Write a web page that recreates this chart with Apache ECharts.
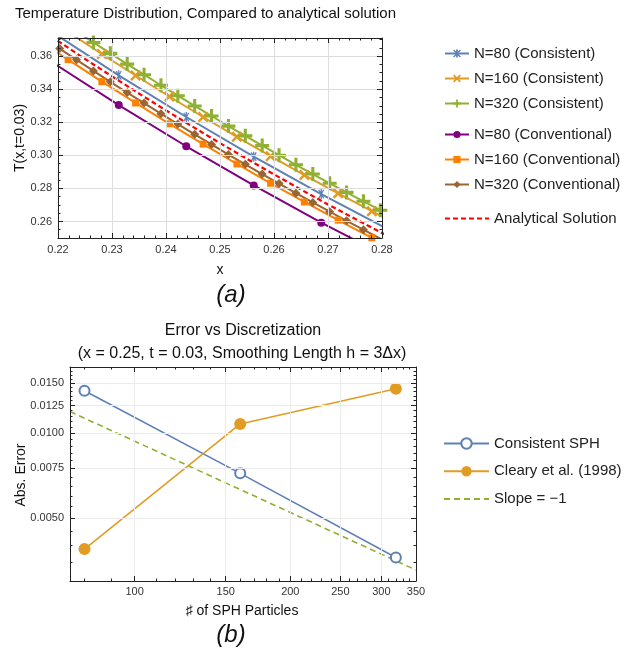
<!DOCTYPE html>
<html><head><meta charset="utf-8">
<script src="https://cdn.jsdelivr.net/npm/echarts@6/dist/echarts.min.js"></script>
<style>html,body{margin:0;padding:0;background:#fff}#c{width:632px;height:655px}</style>
</head><body><div id="c"></div>
<script>
// ---------- data: panel (a) ----------
const xN80 = [0.21875, 0.23125, 0.24375, 0.25625, 0.26875, 0.28125];
const tN80Consistent = [0.3749, 0.3484, 0.3232, 0.2992, 0.2766, 0.2551];
const tN80Conventional = [0.3567, 0.3304, 0.3055, 0.2818, 0.2593, 0.2382];

const xN160 = [0.215625, 0.221875, 0.228125, 0.234375, 0.240625, 0.246875, 0.253125, 0.259375, 0.265625, 0.271875, 0.278125, 0.284375];
const tN160Consistent = [0.3882, 0.3746, 0.3613, 0.3483, 0.3356, 0.3232, 0.3112, 0.2995, 0.2881, 0.2770, 0.2662, 0.2557];
const tN160Conventional = [0.3713, 0.3579, 0.3446, 0.3317, 0.3191, 0.3068, 0.2948, 0.2831, 0.2718, 0.2608, 0.2501, 0.2397];

const xN320 = [0.2171875, 0.2203125, 0.2234375, 0.2265625, 0.2296875, 0.2328125, 0.2359375, 0.2390625, 0.2421875, 0.2453125, 0.2484375,
               0.2515625, 0.2546875, 0.2578125, 0.2609375, 0.2640625, 0.2671875, 0.2703125, 0.2734375, 0.2765625, 0.2796875, 0.2828125];
const tN320Consistent = [0.3886, 0.3818, 0.3750, 0.3683, 0.3617, 0.3552, 0.3488, 0.3424, 0.3361, 0.3299, 0.3238,
                         0.3177, 0.3118, 0.3059, 0.3001, 0.2943, 0.2887, 0.2831, 0.2776, 0.2722, 0.2668, 0.2616];
const tN320Conventional = [0.3714, 0.3646, 0.3578, 0.3511, 0.3445, 0.3380, 0.3316, 0.3252, 0.3189, 0.3127, 0.3066,
                           0.3005, 0.2946, 0.2887, 0.2829, 0.2771, 0.2715, 0.2659, 0.2604, 0.2550, 0.2496, 0.2444];

const xAnalytic = [0.215, 0.220, 0.225, 0.230, 0.235, 0.240, 0.245, 0.250, 0.255, 0.260, 0.265, 0.270, 0.275, 0.280, 0.285];
const tAnalytic = [0.3801, 0.3692, 0.3583, 0.3478, 0.3374, 0.3272, 0.3172, 0.3074, 0.2979, 0.2885, 0.2793, 0.2703, 0.2616, 0.2530, 0.2446];

const xTicksA = [0.22, 0.23, 0.24, 0.25, 0.26, 0.27, 0.28];
const yTicksA = [0.26, 0.28, 0.30, 0.32, 0.34, 0.36];
const yMinorA = [0.25, 0.255, 0.265, 0.27, 0.275, 0.285, 0.29, 0.295, 0.305, 0.31, 0.315, 0.325, 0.33, 0.335, 0.345, 0.35, 0.355, 0.365, 0.37];

// ---------- data: panel (b) ----------
const nParticles = [80, 160, 320];
const errConsistent = [0.01409, 0.0072, 0.00363];
const errCleary = [0.00389, 0.01076, 0.01432];
const slopeN = [75, 350];
const slopeErr = [0.0119, 0.00328];

const xTicksB = [100, 150, 200, 250, 300, 350];
const xMinorB = [80, 90, 110, 120, 130, 140, 160, 170, 180, 190, 210, 220, 230, 240, 260, 270, 280, 290, 310, 320, 330, 340];
const yTicksB = [0.0050, 0.0075, 0.0100, 0.0125, 0.0150];
const yMinorB = [0.0035, 0.004, 0.0045, 0.0055, 0.006, 0.0065, 0.007, 0.008, 0.0085, 0.009, 0.0095,
                 0.0105, 0.011, 0.0115, 0.012, 0.013, 0.0135, 0.014, 0.0145, 0.0155, 0.016, 0.0165, 0.017];

// ---------- styling ----------
const FONT = '"Liberation Sans", Arial, Helvetica, sans-serif';
const INK = '#222';
const zip = (xs, ys) => xs.map((x, i) => [x, ys[i]]);

const STAR = 'path://M4.35,0H5.65V10H4.35Z M3.02,0.37L8.02,9.03L6.98,9.63L1.98,0.97Z M8.02,0.97L3.02,9.63L1.98,9.03L6.98,0.37Z';
const XMARK = 'path://M0,1.6L1.6,0L5,3.4L8.4,0L10,1.6L6.6,5L10,8.4L8.4,10L5,6.6L1.6,10L0,8.4L3.4,5Z';
const PLUS = 'path://M3.9,0H6.1V3.9H10V6.1H6.1V10H3.9V6.1H0V3.9H3.9Z';

function axisCommon(o) {
  return Object.assign({
    axisLine: { show: true, onZero: false, lineStyle: { color: INK, width: 1 } },
    axisTick: { show: true, inside: true, length: 5, lineStyle: { color: INK, width: 1 } },
    axisLabel: { show: false },
    splitLine: { show: false },
    minorTick: { show: false },
    z: 5
  }, o);
}
function minorAxis(o, vals) {
  return Object.assign({
    axisLine: { show: false },
    axisTick: { show: true, inside: true, length: 2.5, customValues: vals, lineStyle: { color: INK, width: 1 } },
    axisLabel: { show: false },
    splitLine: { show: false },
    z: 5
  }, o);
}

const labelStyle = { show: true, fontSize: 11, color: '#333', fontFamily: FONT };

const xAxis = [
  axisCommon({ gridIndex: 0, type: 'value', position: 'bottom', min: 0.22, max: 0.28, interval: 0.01,
    axisLabel: Object.assign({}, labelStyle, { margin: 6, customValues: xTicksA, formatter: v => v.toFixed(2) }),
    minorTick: { show: true, splitNumber: 5, length: 2.5, lineStyle: { color: INK } },
    splitLine: { show: true, lineStyle: { color: '#dcdcdc', width: 1 } } }),
  axisCommon({ gridIndex: 0, type: 'value', position: 'top', min: 0.22, max: 0.28, interval: 0.01,
    minorTick: { show: true, splitNumber: 5, length: 2.5, lineStyle: { color: INK } } }),
  axisCommon({ gridIndex: 1, type: 'log', position: 'bottom', min: 75, max: 350,
    axisLabel: Object.assign({}, labelStyle, { margin: 5, customValues: xTicksB, formatter: v => String(Math.round(v)) }),
    axisTick: { show: true, inside: true, length: 5, customValues: xTicksB, lineStyle: { color: INK } },
    splitLine: { show: true, lineStyle: { color: '#ececec', width: 1 } } }),
  minorAxis({ gridIndex: 1, type: 'log', position: 'bottom', min: 75, max: 350 }, xMinorB),
  axisCommon({ gridIndex: 1, type: 'log', position: 'top', min: 75, max: 350,
    axisTick: { show: true, inside: true, length: 5, customValues: xTicksB, lineStyle: { color: INK } } }),
  minorAxis({ gridIndex: 1, type: 'log', position: 'top', min: 75, max: 350 }, xMinorB)
];

const yAxis = [
  axisCommon({ gridIndex: 0, type: 'value', position: 'left', min: 0.25, max: 0.371,
    axisLabel: Object.assign({}, labelStyle, { margin: 6, customValues: yTicksA, formatter: v => v.toFixed(2) }),
    axisTick: { show: true, inside: true, length: 5, customValues: yTicksA, lineStyle: { color: INK } },
    splitLine: { show: true, lineStyle: { color: '#dcdcdc', width: 1 } } }),
  minorAxis({ gridIndex: 0, type: 'value', position: 'left', min: 0.25, max: 0.371 }, yMinorA),
  axisCommon({ gridIndex: 0, type: 'value', position: 'right', min: 0.25, max: 0.371,
    axisTick: { show: true, inside: true, length: 5, customValues: yTicksA, lineStyle: { color: INK } } }),
  minorAxis({ gridIndex: 0, type: 'value', position: 'right', min: 0.25, max: 0.371 }, yMinorA),
  axisCommon({ gridIndex: 1, type: 'log', position: 'left', min: 0.003, max: 0.0171,
    axisLabel: Object.assign({}, labelStyle, { margin: 6, customValues: yTicksB, formatter: v => v.toFixed(4) }),
    axisTick: { show: true, inside: true, length: 5, customValues: yTicksB, lineStyle: { color: INK } },
    splitLine: { show: true, lineStyle: { color: '#ececec', width: 1 } } }),
  minorAxis({ gridIndex: 1, type: 'log', position: 'left', min: 0.003, max: 0.0171 }, yMinorB),
  axisCommon({ gridIndex: 1, type: 'log', position: 'right', min: 0.003, max: 0.0171,
    axisTick: { show: true, inside: true, length: 5, customValues: yTicksB, lineStyle: { color: INK } } }),
  minorAxis({ gridIndex: 1, type: 'log', position: 'right', min: 0.003, max: 0.0171 }, yMinorB)
];

function topLine(name, xs, ys, color, symbol, size, extra) {
  return Object.assign({
    name, type: 'line', xAxisIndex: 0, yAxisIndex: 0, data: zip(xs, ys),
    symbol, symbolSize: size, symbolKeepAspect: true, showSymbol: true,
    lineStyle: { color, width: 2 }, itemStyle: { color, borderWidth: 0 },
    clip: true, z: 3, emphasis: { disabled: true }
  }, extra || {});
}

const series = [
  topLine('N=80 (Consistent)', xN80, tN80Consistent, '#5E81B5', STAR, 10),
  topLine('N=160 (Consistent)', xN160, tN160Consistent, '#E19C24', XMARK, 11),
  topLine('N=320 (Consistent)', xN320, tN320Consistent, '#8FB032', PLUS, 14),
  topLine('N=80 (Conventional)', xN80, tN80Conventional, '#800080', 'circle', 8),
  topLine('N=160 (Conventional)', xN160, tN160Conventional, '#FF8000', 'rect', 7),
  topLine('N=320 (Conventional)', xN320, tN320Conventional, '#996633', 'diamond', 9),
  topLine('Analytical Solution', xAnalytic, tAnalytic, '#FF0000', 'none', 0,
    { showSymbol: false, lineStyle: { color: '#FF0000', width: 2.2, type: [5, 3] }, z: 4 }),
  {
    name: 'Consistent SPH', type: 'line', xAxisIndex: 2, yAxisIndex: 4, data: zip(nParticles, errConsistent),
    symbol: 'emptyCircle', symbolSize: 10, lineStyle: { color: '#5E81B5', width: 1.6 },
    itemStyle: { color: '#5E81B5', borderColor: '#5E81B5', borderWidth: 1.8 }, clip: true, z: 3, emphasis: { disabled: true }
  },
  {
    name: 'Cleary et al. (1998)', type: 'line', xAxisIndex: 2, yAxisIndex: 4, data: zip(nParticles, errCleary),
    symbol: 'circle', symbolSize: 12, lineStyle: { color: '#E19C24', width: 1.6 },
    itemStyle: { color: '#E19C24' }, clip: true, z: 3, emphasis: { disabled: true }
  },
  {
    name: 'Slope = \u22121', type: 'line', xAxisIndex: 2, yAxisIndex: 4, data: zip(slopeN, slopeErr),
    symbol: 'none', showSymbol: false, lineStyle: { color: '#8FB032', width: 1.6, type: [6, 4] },
    itemStyle: { color: '#8FB032' }, clip: true, z: 2, emphasis: { disabled: true }
  }
];

const legendText = { fontSize: 15, color: INK, fontFamily: FONT, lineHeight: 14 };
const hidden = { opacity: 0 };
const legend = [
  { data: ['N=80 (Consistent)', 'N=160 (Consistent)', 'N=320 (Consistent)'], orient: 'vertical', left: 444, top: 46,
    itemWidth: 24, itemHeight: 10, itemGap: 10, padding: 0, selectedMode: false, textStyle: legendText },
  { data: ['N=80 (Conventional)', 'N=160 (Conventional)', 'N=320 (Conventional)'], orient: 'vertical', left: 444, top: 127,
    itemWidth: 24, itemHeight: 9, itemGap: 10, padding: 0, selectedMode: false, textStyle: legendText },
  { data: [{ name: 'Analytical Solution', itemStyle: hidden }], orient: 'vertical', left: 444, top: 211,
    itemWidth: 44, itemHeight: 10, itemGap: 10, padding: 0, selectedMode: false, textStyle: legendText },
  { data: ['Consistent SPH', 'Cleary et al. (1998)', { name: 'Slope = \u22121', itemStyle: hidden }], orient: 'vertical', left: 443, top: 436,
    itemWidth: 45, itemHeight: 13, itemGap: 12.7, padding: 0, selectedMode: false, textStyle: legendText }
];

function txt(text, x, y, size, opts) {
  return Object.assign({
    type: 'text', x, y, silent: true, z: 10,
    style: Object.assign({ text, fill: '#111', font: size + 'px ' + FONT,
      align: 'center', verticalAlign: 'middle', textAlign: 'center', textVerticalAlign: 'middle' }, (opts && opts.style) || {})
  }, (opts && opts.el) || {});
}

const graphic = [
  txt('Temperature Distribution, Compared to analytical solution', 15, 14, 15, { style: { align: 'left', textAlign: 'left' } }),
  txt('x', 220, 270, 14),
  txt('T(x,t=0.03)', 20, 138, 14, { el: { rotation: Math.PI / 2 } }),
  txt('(a)', 231, 295, 24, { style: { font: 'italic 24px ' + FONT } }),
  txt('Error vs Discretization', 243, 331, 16),
  txt('(x = 0.25, t = 0.03, Smoothing Length h = 3\u0394x)', 242, 354, 16),
  txt('Abs. Error', 21, 475, 14, { el: { rotation: Math.PI / 2 } }),
  txt('\u266F of SPH Particles', 242, 611, 14),
  txt('(b)', 231, 635, 24, { style: { font: 'italic 24px ' + FONT } })
];

const chart = echarts.init(document.getElementById('c'), null, { renderer: 'canvas' });
chart.setOption({
  animation: false,
  backgroundColor: '#fff',
  textStyle: { fontFamily: FONT },
  grid: [
    { left: 58, top: 38, width: 324, height: 200, containLabel: false },
    { left: 70, top: 367, width: 346, height: 214, containLabel: false }
  ],
  xAxis, yAxis, series, legend, graphic
});
</script></body></html>
